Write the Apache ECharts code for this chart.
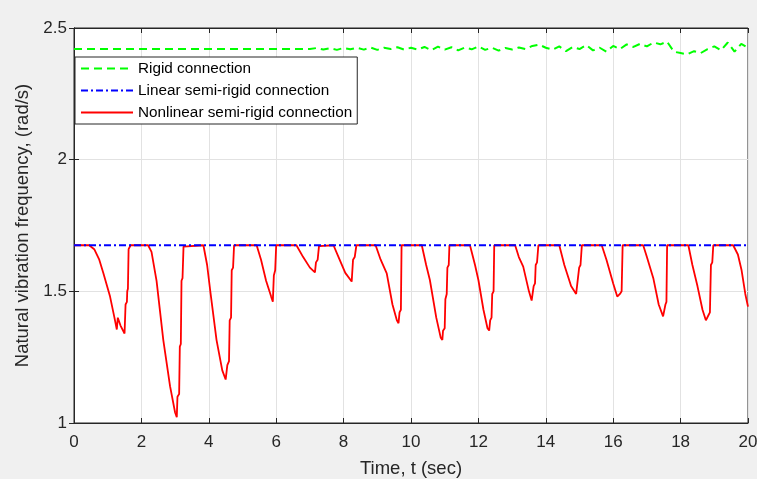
<!DOCTYPE html>
<html>
<head>
<meta charset="utf-8">
<script src="https://cdn.jsdelivr.net/npm/echarts@6/dist/echarts.min.js"></script>
<style>
  html, body { margin: 0; padding: 0; background: #f0f0f0; }
  #chart { width: 757px; height: 479px; }
</style>
</head>
<body>
<div id="chart"></div>
<script>
var names = ["Rigid connection", "Linear semi-rigid connection", "Nonlinear semi-rigid connection"];
var xTicks = [0, 2, 4, 6, 8, 10, 12, 14, 16, 18, 20];
var yTicks = [1, 1.5, 2, 2.5];

// [time, frequency]
var rigid = [
  [0, 2.42], [7.0, 2.42], [7.2, 2.424], [7.4, 2.418], [7.6, 2.423], [7.8, 2.417], [8.0, 2.424],
  [8.2, 2.419], [8.4, 2.425], [8.6, 2.418], [8.8, 2.426], [9.0, 2.417], [9.2, 2.425], [9.4, 2.42],
  [9.6, 2.427], [9.8, 2.418], [10.0, 2.425], [10.2, 2.418], [10.4, 2.428], [10.6, 2.416], [10.8, 2.429],
  [11.0, 2.418], [11.2, 2.427], [11.4, 2.415], [11.6, 2.426], [11.8, 2.419], [12.0, 2.43], [12.2, 2.417],
  [12.4, 2.425], [12.6, 2.414], [12.8, 2.424], [13.0, 2.418], [13.2, 2.426], [13.4, 2.42], [13.6, 2.432],
  [13.8, 2.437], [14.0, 2.425], [14.2, 2.418], [14.4, 2.43], [14.6, 2.412], [14.8, 2.428], [15.0, 2.42],
  [15.2, 2.435], [15.4, 2.415], [15.6, 2.425], [15.8, 2.41], [16.0, 2.432], [16.2, 2.42], [16.4, 2.438],
  [16.6, 2.428], [16.8, 2.44], [17.0, 2.43], [17.2, 2.445], [17.4, 2.438], [17.6, 2.448], [17.8, 2.41],
  [18.0, 2.405], [18.2, 2.4], [18.4, 2.412], [18.6, 2.405], [18.8, 2.42], [19.0, 2.43], [19.2, 2.415],
  [19.4, 2.445], [19.6, 2.41], [19.8, 2.44], [20.0, 2.425]
];

var linear = [[0, 1.675], [20, 1.675]];

var nonlinear = [
  [0, 1.675], [0.45, 1.675], [0.6, 1.66], [0.75, 1.62], [0.87, 1.57], [1.07, 1.48], [1.2, 1.4], [1.27, 1.355],
  [1.3, 1.4], [1.32, 1.405], [1.38, 1.37], [1.5, 1.34], [1.52, 1.34], [1.53, 1.45], [1.57, 1.46], [1.58, 1.5],
  [1.6, 1.51], [1.62, 1.66], [1.68, 1.675], [2.2, 1.675],
  [2.3, 1.65], [2.45, 1.54], [2.65, 1.315], [2.85, 1.14], [3.0, 1.04], [3.05, 1.022], [3.07, 1.1], [3.12, 1.11],
  [3.14, 1.29], [3.17, 1.3], [3.19, 1.54], [3.22, 1.55], [3.25, 1.67], [3.3, 1.675], [3.84, 1.675],
  [3.95, 1.6], [4.04, 1.505], [4.23, 1.315], [4.4, 1.2], [4.5, 1.165], [4.53, 1.161], [4.55, 1.22], [4.6, 1.235],
  [4.62, 1.39], [4.66, 1.4], [4.68, 1.58], [4.72, 1.59], [4.75, 1.675], [5.42, 1.675],
  [5.55, 1.62], [5.7, 1.54], [5.85, 1.48], [5.9, 1.461], [5.93, 1.56], [5.97, 1.58], [6.0, 1.675], [6.6, 1.675],
  [6.8, 1.63], [7.0, 1.59], [7.15, 1.572], [7.18, 1.61], [7.23, 1.62], [7.27, 1.672], [7.3, 1.675], [7.7, 1.675],
  [7.85, 1.63], [8.05, 1.57], [8.24, 1.537], [8.28, 1.62], [8.33, 1.63], [8.38, 1.675], [8.95, 1.675],
  [9.1, 1.62], [9.28, 1.568], [9.45, 1.45], [9.58, 1.39], [9.63, 1.379], [9.66, 1.42], [9.7, 1.43], [9.72, 1.675],
  [10.32, 1.675],
  [10.45, 1.6], [10.56, 1.543], [10.75, 1.4], [10.88, 1.325], [10.93, 1.315], [10.95, 1.35], [11.0, 1.36],
  [11.02, 1.47], [11.06, 1.49], [11.08, 1.59], [11.12, 1.6], [11.14, 1.675], [11.75, 1.675],
  [11.9, 1.6], [12.0, 1.543], [12.15, 1.43], [12.27, 1.36], [12.32, 1.351], [12.35, 1.39], [12.39, 1.4],
  [12.41, 1.49], [12.45, 1.5], [12.47, 1.675], [13.09, 1.675],
  [13.2, 1.63], [13.33, 1.594], [13.5, 1.5], [13.58, 1.465], [13.61, 1.461], [13.64, 1.52], [13.68, 1.53],
  [13.7, 1.6], [13.74, 1.61], [13.78, 1.675], [14.4, 1.675],
  [14.55, 1.6], [14.75, 1.52], [14.9, 1.49], [14.95, 1.486], [14.99, 1.59], [15.03, 1.6], [15.07, 1.675],
  [15.66, 1.675],
  [15.8, 1.62], [16.0, 1.53], [16.12, 1.48], [16.15, 1.474], [16.2, 1.49], [16.25, 1.5], [16.28, 1.675],
  [16.89, 1.675],
  [17.0, 1.63], [17.19, 1.55], [17.35, 1.45], [17.48, 1.405], [17.52, 1.401], [17.55, 1.45], [17.58, 1.46],
  [17.6, 1.675], [18.23, 1.675],
  [18.35, 1.6], [18.5, 1.52], [18.65, 1.43], [18.75, 1.39], [18.79, 1.385], [18.83, 1.41], [18.87, 1.42],
  [18.9, 1.6], [18.94, 1.61], [18.97, 1.675], [19.56, 1.675],
  [19.7, 1.64], [19.81, 1.58], [19.92, 1.49], [20, 1.442]
];

var axisColor = "#262626";
var font = "Liberation Sans, Arial, Helvetica, sans-serif";

var chart = echarts.init(document.getElementById("chart"));
var option = {
  backgroundColor: "#f0f0f0",
  animation: false,
  textStyle: { fontFamily: font },
  grid: {
    left: 74, right: 9, top: 28, bottom: 56,
    containLabel: false, outerBoundsMode: "none",
    show: true, backgroundColor: "#ffffff", borderColor: axisColor, borderWidth: 1
  },
  legend: {
    data: names,
    orient: "vertical",
    left: 75, top: 57,
    padding: [4, 5, 4, 5],
    itemWidth: 52, itemHeight: 14, itemGap: 7,
    itemStyle: { opacity: 0 },
    backgroundColor: "#ffffff",
    borderColor: axisColor, borderWidth: 1, borderRadius: 0,
    textStyle: { fontSize: 15.3, color: "#000", fontFamily: font }
  },
  xAxis: [
    {
      type: "value", min: xTicks[0], max: xTicks[xTicks.length - 1], interval: 2,
      name: "Time, t (sec)", nameLocation: "middle", nameGap: 36,
      nameTextStyle: { fontSize: 18.5, color: axisColor, fontFamily: font },
      axisLine: { lineStyle: { color: axisColor } },
      axisTick: { inside: true, length: 5, lineStyle: { color: axisColor } },
      axisLabel: { fontSize: 17, color: axisColor, margin: 11, fontFamily: font },
      splitLine: { show: true, lineStyle: { color: "#e2e2e2", width: 1 } }
    },
    {
      type: "value", position: "top", min: 0, max: 20, interval: 2,
      axisLine: { lineStyle: { color: axisColor } },
      axisTick: { inside: true, length: 5, lineStyle: { color: axisColor } },
      axisLabel: { show: false }, splitLine: { show: false }
    }
  ],
  yAxis: [
    {
      type: "value", min: yTicks[0], max: yTicks[yTicks.length - 1], interval: 0.5,
      name: "Natural vibration frequency, (rad/s)", nameLocation: "middle", nameGap: 39,
      nameTextStyle: { fontSize: 18.5, color: axisColor, fontFamily: font },
      axisLine: { show: true, lineStyle: { color: axisColor } },
      axisTick: { show: true, inside: true, length: 5, lineStyle: { color: axisColor } },
      axisLabel: { fontSize: 17, color: axisColor, margin: 7, fontFamily: font },
      splitLine: { show: true, lineStyle: { color: "#e2e2e2", width: 1 } }
    },
    {
      type: "value", position: "right", min: 1, max: 2.5, interval: 0.5,
      axisLine: { show: true, lineStyle: { color: axisColor } },
      axisTick: { show: true, inside: true, length: 5, lineStyle: { color: axisColor } },
      axisLabel: { show: false }, splitLine: { show: false }
    }
  ],
  series: [
    {
      name: names[0], type: "line", data: rigid, showSymbol: false, symbol: "none", z: 3,
      lineStyle: { color: "#00ff00", width: 2, type: [8, 5] }, itemStyle: { color: "#00ff00" }
    },
    {
      name: names[2], type: "line", data: nonlinear, showSymbol: false, symbol: "none", z: 3,
      lineStyle: { color: "#ff0000", width: 1.8 }, itemStyle: { color: "#ff0000" }
    },
    {
      name: names[1], type: "line", data: linear, showSymbol: false, symbol: "none", z: 4,
      lineStyle: { color: "#0000ff", width: 2, type: [7, 3, 2, 3] }, itemStyle: { color: "#0000ff" }
    }
  ]
};
chart.setOption(option);
</script>
</body>
</html>
